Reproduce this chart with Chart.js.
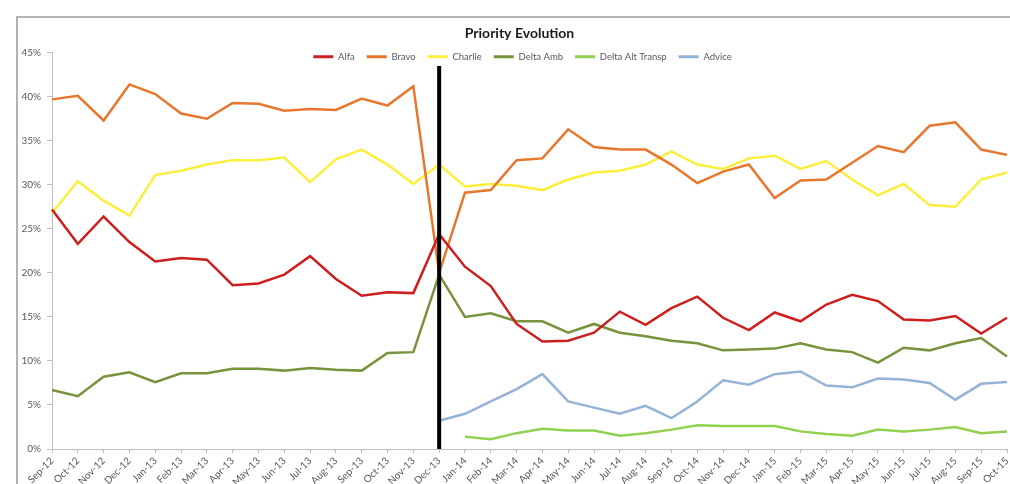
<!DOCTYPE html>
<html>
<head>
<meta charset="utf-8">
<title>Priority Evolution</title>
<script src="https://cdn.jsdelivr.net/npm/chart.js@4.4.1/dist/chart.umd.min.js"></script>
<style>
  html, body { margin: 0; padding: 0; background: #ffffff; overflow: hidden; }
  #wrap { position: relative; width: 1010px; height: 484px; }
</style>
</head>
<body>
<div id="wrap"><canvas id="chart" width="1010" height="484"></canvas></div>
<script>
// Monthly categories
const months = [
  'Sep-12','Oct-12','Nov-12','Dec-12','Jan-13','Feb-13','Mar-13','Apr-13','May-13','Jun-13',
  'Jul-13','Aug-13','Sep-13','Oct-13','Nov-13','Dec-13','Jan-14','Feb-14','Mar-14','Apr-14',
  'May-14','Jun-14','Jul-14','Aug-14','Sep-14','Oct-14','Nov-14','Dec-14','Jan-15','Feb-15',
  'Mar-15','Apr-15','May-15','Jun-15','Jul-15','Aug-15','Sep-15','Oct-15'
];

// Share of each priority, in percent
const alfa = [27.2, 23.3, 26.4, 23.5, 21.3, 21.7, 21.5, 18.6, 18.8, 19.8, 21.9, 19.3, 17.4, 17.8, 17.7,
  24.4, 20.7, 18.5, 14.2, 12.2, 12.3, 13.2, 15.6, 14.1, 16.0, 17.3, 14.9, 13.5, 15.5, 14.5, 16.4, 17.5,
  16.8, 14.7, 14.6, 15.1, 13.1, 14.9];
const bravo = [39.7, 40.1, 37.3, 41.4, 40.3, 38.1, 37.5, 39.3, 39.2, 38.4, 38.6, 38.5, 39.8, 39.0, 41.2,
  20.0, 29.1, 29.4, 32.8, 33.0, 36.3, 34.3, 34.0, 34.0, 32.3, 30.2, 31.5, 32.3, 28.5, 30.5, 30.6, 32.5,
  34.4, 33.7, 36.7, 37.1, 34.0, 33.4];
const charlie = [26.8, 30.4, 28.2, 26.5, 31.1, 31.6, 32.3, 32.8, 32.8, 33.1, 30.3, 32.9, 34.0, 32.3, 30.1,
  32.3, 29.8, 30.1, 29.9, 29.4, 30.6, 31.4, 31.6, 32.3, 33.8, 32.3, 31.8, 33.0, 33.3, 31.8, 32.7, 30.6,
  28.8, 30.1, 27.7, 27.5, 30.6, 31.4];
const deltaAmb = [6.7, 6.0, 8.2, 8.7, 7.6, 8.6, 8.6, 9.1, 9.1, 8.9, 9.2, 9.0, 8.9, 10.9, 11.0,
  19.8, 15.0, 15.4, 14.5, 14.5, 13.2, 14.2, 13.2, 12.8, 12.3, 12.0, 11.2, 11.3, 11.4, 12.0, 11.3, 11.0,
  9.8, 11.5, 11.2, 12.0, 12.6, 10.5];
const deltaAltTransp = [null, null, null, null, null, null, null, null, null, null, null, null, null, null, null,
  null, 1.4, 1.1, 1.8, 2.3, 2.1, 2.1, 1.5, 1.8, 2.2, 2.7, 2.6, 2.6, 2.6, 2.0, 1.7, 1.5,
  2.2, 2.0, 2.2, 2.5, 1.8, 2.0];
const advice = [null, null, null, null, null, null, null, null, null, null, null, null, null, null, null,
  3.2, 4.0, 5.4, 6.8, 8.5, 5.4, 4.7, 4.0, 4.9, 3.5, 5.4, 7.8, 7.3, 8.5, 8.8, 7.2, 7.0,
  8.0, 7.9, 7.5, 5.6, 7.4, 7.6];

// Y axis range and step (percent)
const yMin = 0, yMax = 45, yStep = 5;

// Month where the process change happened, and the top of its marker (percent)
const markerMonth = 'Dec-13';
const markerTop = 43.5;

const FONT = 'Lato, "Open Sans", "Liberation Sans", sans-serif';
const TEXT = '#595959';
const AXIS = '#bfbfbf';

function series(label, data, color) {
  return {
    label, data,
    borderColor: color, backgroundColor: color,
    borderWidth: 2.5, pointRadius: 0, pointHoverRadius: 0,
    tension: 0, spanGaps: false, fill: false
  };
}

// Outer frame around the chart
const framePlugin = {
  id: 'frame',
  beforeDraw(chart) {
    const ctx = chart.ctx;
    ctx.save();
    ctx.strokeStyle = '#b3b3b3';
    ctx.lineWidth = 2;
    ctx.beginPath();
    ctx.moveTo(17, chart.height + 5);
    ctx.lineTo(17, 17);
    ctx.lineTo(chart.width + 5, 17);
    ctx.stroke();
    ctx.restore();
  }
};

// The legend overlaps the top of the plot area instead of taking its own band,
// and the title is centred a little right of the canvas middle.
const placement = {
  id: 'placement',
  beforeLayout(chart) {
    const lg = chart.legend;
    if (lg && !lg._overlay) {
      const fit = lg.fit;
      lg.fit = function () {
        fit.call(this);
        this._realHeight = this.height;
        this.height = 0;
      };
      lg._overlay = true;
    }
  },
  afterLayout(chart) {
    const lg = chart.legend;
    if (lg) {
      lg.top = 40;
      lg.bottom = lg.top + (lg._realHeight || 40);
      lg.height = lg.bottom - lg.top;
      lg.left += 19;
      lg.right += 19;
    }
    const tb = chart.titleBlock;
    if (tb) {
      tb.left += 16;
      tb.right += 16;
    }
  }
};

// Thick vertical marker at the change month
const markerPlugin = {
  id: 'marker',
  afterDatasetsDraw(chart) {
    const xs = chart.scales.x, ys = chart.scales.y;
    const x = xs.getPixelForValue(months.indexOf(markerMonth));
    const ctx = chart.ctx;
    ctx.save();
    ctx.strokeStyle = '#000000';
    ctx.lineWidth = 4;
    ctx.beginPath();
    ctx.moveTo(x, ys.getPixelForValue(markerTop));
    ctx.lineTo(x, ys.getPixelForValue(yMin));
    ctx.stroke();
    ctx.restore();
  }
};

new Chart(document.getElementById('chart'), {
  type: 'line',
  data: {
    labels: months,
    datasets: [
      series('Alfa', alfa, '#cc1f1f'),
      series('Bravo', bravo, '#e8772e'),
      series('Charlie', charlie, '#fbef3c'),
      series('Delta Amb', deltaAmb, '#77933c'),
      series('Delta Alt Transp', deltaAltTransp, '#92d050'),
      series('Advice', advice, '#95b3d7')
    ]
  },
  options: {
    responsive: false,
    animation: false,
    devicePixelRatio: 1,
    layout: { padding: { left: 0, right: 3, top: 0, bottom: 0 } },
    plugins: {
      tooltip: { enabled: false },
      title: {
        display: true,
        text: 'Priority Evolution',
        color: '#1a1a1a',
        font: { family: FONT, size: 14, weight: 'bold', lineHeight: 1.2 },
        padding: { top: 24.6, bottom: 11.3 }
      },
      legend: {
        display: true,
        position: 'top',
        align: 'center',
        labels: {
          color: TEXT,
          font: { family: FONT, size: 9.5 },
          boxWidth: 20,
          boxHeight: 3,
          padding: 12,
          generateLabels(chart) {
            return Chart.defaults.plugins.legend.labels.generateLabels(chart).map(l => ({
              ...l, fillStyle: l.strokeStyle, lineWidth: 0
            }));
          }
        }
      }
    },
    scales: {
      x: {
        type: 'category',
        offset: false,
        border: { display: true, color: AXIS, width: 1 },
        grid: { drawOnChartArea: false, drawTicks: true, tickLength: 4, color: AXIS },
        ticks: {
          color: TEXT,
          font: { family: FONT, size: 10 },
          autoSkip: false,
          minRotation: 45,
          maxRotation: 45,
          padding: 2
        },
        afterFit(scale) {
          scale.height = 35;
          scale.paddingLeft = 0;
          scale.paddingRight = 0;
        }
      },
      y: {
        min: yMin,
        max: yMax,
        border: { display: true, color: AXIS, width: 1 },
        grid: { drawOnChartArea: false, drawTicks: true, tickLength: 5, color: AXIS },
        ticks: {
          stepSize: yStep,
          color: TEXT,
          font: { family: FONT, size: 10 },
          padding: 6,
          callback: v => v + '%'
        },
        afterFit(scale) {
          scale.width = 52;
          scale.paddingTop = 0;
          scale.paddingBottom = 0;
        }
      }
    }
  },
  plugins: [framePlugin, placement, markerPlugin]
});
</script>
</body>
</html>
